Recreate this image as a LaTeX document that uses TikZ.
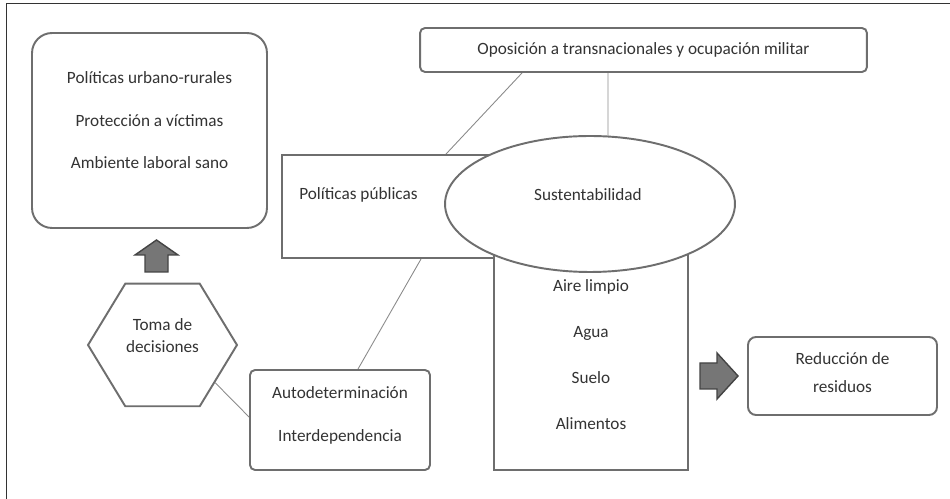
\documentclass[tikz,border=0pt]{standalone}
\usepackage{fontspec}
\setmainfont{Carlito}
\usetikzlibrary{shapes.geometric,calc,backgrounds}
\definecolor{boxgray}{HTML}{6E6E6E}
\definecolor{txtgray}{HTML}{333333}
\definecolor{linegray}{HTML}{8A8A8A}
\definecolor{arrfill}{HTML}{767676}
\definecolor{arrdraw}{HTML}{444444}
\tikzset{
  boxbase/.style={draw=boxgray, line width=1.1pt, fill=white, inner sep=0pt},
  roundbox/.style={boxbase, rounded corners=#1},
  txt/.style={text=txtgray, font=\fontsize{9.8}{12}\selectfont, inner sep=0pt},
  conn/.style={draw=linegray, line width=0.5pt},
  blockarrow/.style={fill=arrfill, draw=arrdraw, line width=0.8pt, line join=miter}
}
\begin{document}
\begin{tikzpicture}[x=0.02cm,y=-0.02cm]
\useasboundingbox (0,0) rectangle (950,499);
% frame (left and top edges)
\coordinate (fbl) at (6.5,499);
\coordinate (ftl) at (6.5,3.5);
\coordinate (ftr) at (950,3.5);
\draw[draw=black!80, line width=1.1pt] (fbl) -- (ftl) -- (ftr);

% nodes
\node[roundbox=0.4cm, minimum width=4.7cm, minimum height=3.9cm] (box1) at (149.5,130.5) {};
\node[txt, align=center, font=\fontsize{9.8}{24.2}\selectfont] (box1t) at (149.5,120.5)
  {Políticas urbano-rurales\\Protección a víctimas\\Ambiente laboral sano};

\node[roundbox=0.1cm, minimum width=8.94cm, minimum height=0.88cm] (opos) at (643.5,50) {};
\node[txt] (oposT) at (643.5,50) {Oposición a transnacionales y ocupación militar};

\node[boxbase, minimum width=5.6cm, minimum height=2.06cm] (pp) at (422,206.5) {};
\node[txt, anchor=west] (ppT) at (299,195) {Políticas públicas};

\node[boxbase, minimum width=3.88cm, minimum height=4.4cm] (aire) at (591,360) {};
\node[txt, align=center, font=\fontsize{9.8}{26.3}\selectfont] (aireT) at (591,354.5)
  {Aire limpio\\Agua\\Suelo\\Alimentos};

\node[boxbase, ellipse, minimum width=5.8cm, minimum height=2.72cm] (sus) at (590,204) {};
\node[txt] (susT) at (588,195) {Sustentabilidad};

\node[boxbase, regular polygon, regular polygon sides=6, minimum size=2.98cm, yscale=0.95] (toma) at (162.5,345) {};
\node[txt, align=center, font=\fontsize{9.8}{12.5}\selectfont] (tomaT) at (162.5,336) {Toma de\\decisiones};

\node[roundbox=0.1cm, minimum width=3.6cm, minimum height=2cm] (auto) at (340,420) {};
\node[txt, align=center, font=\fontsize{9.8}{24.5}\selectfont] (autoT) at (340,415.5)
  {Autodeterminación\\Interdependencia};

\node[roundbox=0.16cm, minimum width=3.78cm, minimum height=1.56cm] (red) at (842.5,376) {};
\node[txt, align=center, font=\fontsize{9.8}{15.9}\selectfont] (redT) at (842.5,373)
  {Reducción de\\residuos};

% connectors (behind the white-filled shapes)
\begin{scope}[on background layer]
\path[conn] ([xshift=-2.43cm]opos.south) -- ([xshift=3.3cm]pp.north west);
\path[conn] ([xshift=-0.71cm]opos.south) -- ($(sus.north)+(18,3)$);
\path[conn] ([xshift=2.8cm]pp.south west) -- ([xshift=0.36cm]auto.north);
\path[conn] (toma.-37) -- ([yshift=0.06cm]auto.west);
\end{scope}

% block arrows
\coordinate (upTip) at (156.5,240);
\draw[blockarrow] (upTip) -- (178,255) -- (168,255) -- (168,272) -- (145,272) -- (145,255) -- (135,255) -- cycle;
\coordinate (rtTip) at (738,376);
\draw[blockarrow] (rtTip) -- (717,399) -- (717,389) -- (700,389) -- (700,363) -- (717,363) -- (717,353) -- cycle;
\end{tikzpicture}
\end{document}
